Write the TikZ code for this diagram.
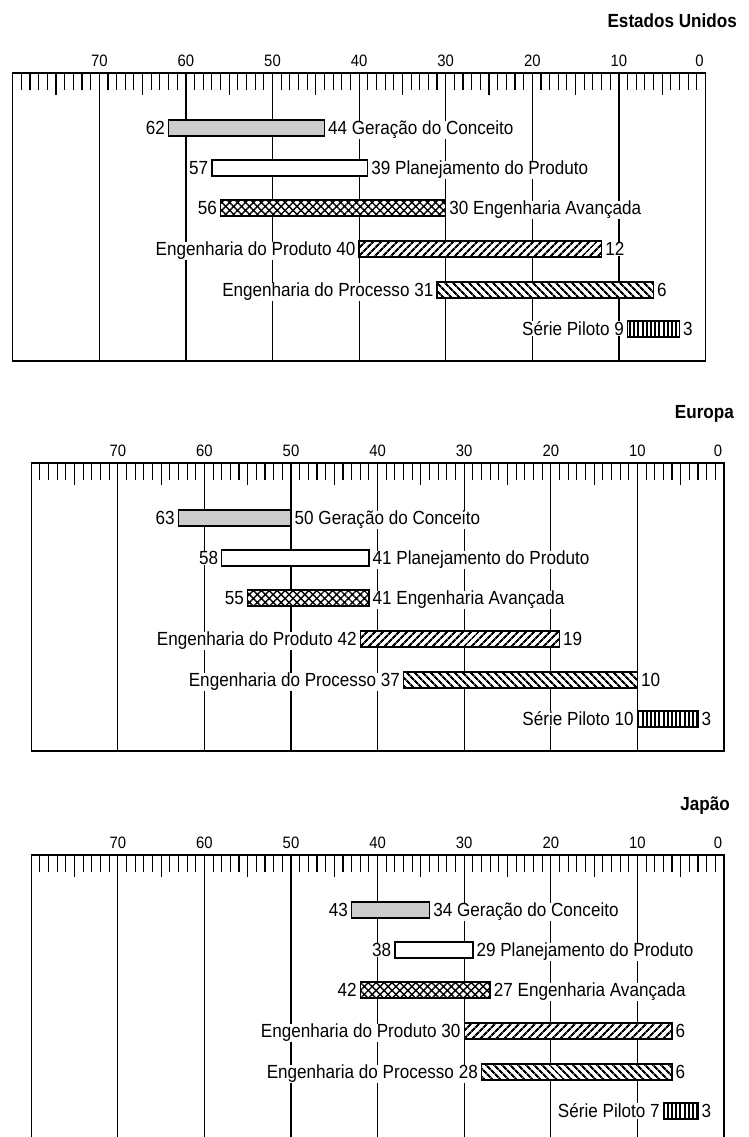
\documentclass[tikz,border=0pt]{standalone}
\usepackage{fontspec}
\setmainfont{Liberation Sans}[FakeStretch=0.9]
\usetikzlibrary{patterns.meta}

% one year on the time scale, in pt
\def\unitw{8.66}

\tikzset{
  frame/.style={line width=1.3pt},
  minortick/.style={line width=1.1pt},
  gridline/.style={line width=1.2pt},
  bar/.style={draw=black, line width=1.4pt},
  bargray/.style={bar, fill=black!20},
  barwhite/.style={bar, fill=white},
  barcross/.style={bar, preaction={fill=white}, pattern={Hatch[angle=45,distance=5.6pt,line width=1.4pt]}},
  barne/.style={bar, preaction={fill=white}, pattern={Lines[angle=45,distance=5.4pt,line width=2.3pt]}},
  barnw/.style={bar, preaction={fill=white}, pattern={Lines[angle=-45,distance=5.4pt,line width=2.3pt]}},
  barvert/.style={bar, preaction={fill=white}, pattern={Lines[angle=90,distance=4.2pt,line width=1.9pt]}},
  lab/.style={font=\fontsize{19}{21}\selectfont, fill=white, inner sep=0.5pt},
  num/.style={font=\fontsize{16.5}{18}\selectfont, inner sep=0pt},
  paneltitle/.style={font=\bfseries\fontsize{19}{21}\selectfont, inner sep=0pt, anchor=base east},
}

% #1 name, #2 y of the scale line, #3 x of the zero mark,
% #4 title, #5 right edge of the title, #6 rows
\newcommand\drawpanel[6]{%
  \node[paneltitle] (#1-title) at (#5,#2-45) {#4};
  \begin{scope}[shift={(#3,#2)}]
    % frame
    \draw[frame] (-80*\unitw,288) -- (-80*\unitw,0) -- (0,0) -- (0,288) -- cycle;
    % small ticks (longer every five years)
    \foreach \v in {1,...,79}{
      \pgfmathsetmacro\len{ifthenelse(mod(\v,5)==0,22,17)}
      \draw[minortick] (-\v*\unitw,0) -- (-\v*\unitw,\len);
    }
    % decade lines
    \foreach \v in {10,20,...,70}{
      \draw[gridline] (-\v*\unitw,0) -- (-\v*\unitw,288);
      \node[num] (#1-n\v) at (-\v*\unitw,-12) {\v};
    }
    \node[num] (#1-n0) at (-6,-12) {0};
    % phases
    \foreach \a/\b/\lt/\rt/\sty/\ry [count=\i from 0] in {#6}{
      \draw[\sty] (-\a*\unitw,\ry-8) rectangle (-\b*\unitw,\ry+8);
      \node[lab, anchor=base east] (#1-l\i) at (-\a*\unitw-3,\ry+6.8) {\lt};
      \node[lab, anchor=base west] (#1-r\i) at (-\b*\unitw+3,\ry+6.8) {\rt};
    }
  \end{scope}
}

\begin{document}
\begin{tikzpicture}[x=1pt,y=-1pt]
\useasboundingbox[fill=white] (0,0) rectangle (749,1137);

\drawpanel{us}{73}{705.5}{Estados Unidos}{737}{%
62/44/62/44 Geração do Conceito/bargray/55,%
57/39/57/39 Planejamento do Produto/barwhite/95,%
56/30/56/30 Engenharia Avançada/barcross/135,%
40/12/Engenharia do Produto 40/12/barne/176,%
31/6/Engenharia do Processo 31/6/barnw/217,%
9/3/Série Piloto 9/3/barvert/256}

\drawpanel{eu}{463}{724}{Europa}{734}{%
63/50/63/50 Geração do Conceito/bargray/55,%
58/41/58/41 Planejamento do Produto/barwhite/95,%
55/41/55/41 Engenharia Avançada/barcross/135,%
42/19/Engenharia do Produto 42/19/barne/176,%
37/10/Engenharia do Processo 37/10/barnw/217,%
10/3/Série Piloto 10/3/barvert/256}

\drawpanel{jp}{855}{724}{Japão}{730}{%
43/34/43/34 Geração do Conceito/bargray/55,%
38/29/38/29 Planejamento do Produto/barwhite/95,%
42/27/42/27 Engenharia Avançada/barcross/135,%
30/6/Engenharia do Produto 30/6/barne/176,%
28/6/Engenharia do Processo 28/6/barnw/217,%
7/3/Série Piloto 7/3/barvert/256}
\end{tikzpicture}
\end{document}
